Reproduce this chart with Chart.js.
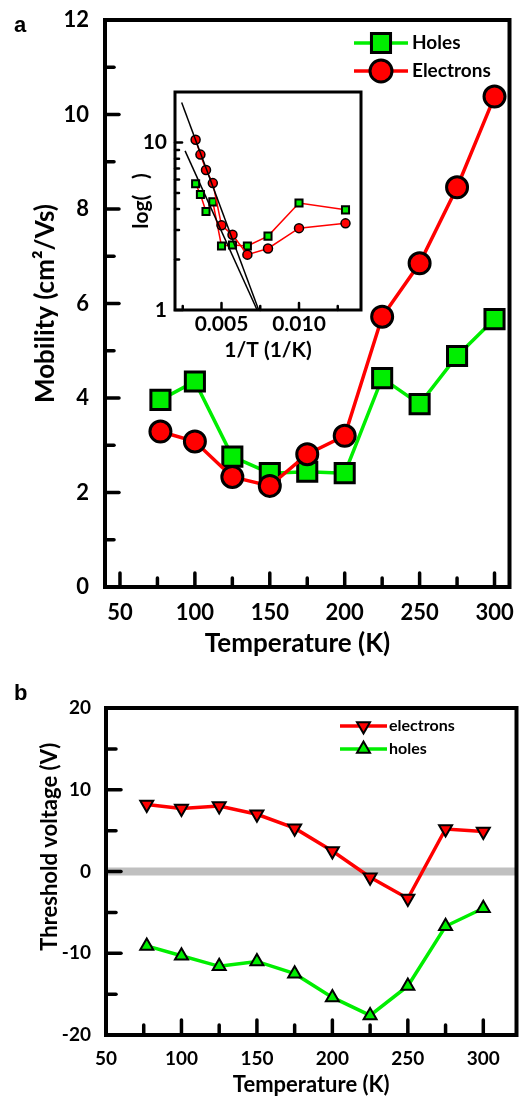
<!DOCTYPE html>
<html lang="en">
<head>
<meta charset="UTF-8" />
<title>Mobility and threshold voltage vs temperature</title>
<style>
  body { margin: 0; background: #fff; }
  .wrap { position: relative; width: 526px; height: 1100px; }
  canvas { position: absolute; }
  #chartA { left: 0; top: 0; }
  #chartInset { left: 110px; top: 80px; }
  #chartB { left: 0; top: 640px; }
  .panel { position: absolute; left: 14px; font: bold 22px "Liberation Sans", Arial, sans-serif; line-height: 22px; }
</style>
</head>
<body>
<div class="wrap">
  <canvas id="chartA" width="526" height="665"></canvas>
  <canvas id="chartB" width="526" height="460"></canvas>
  <canvas id="chartInset" width="270" height="300"></canvas>
  <div class="panel" style="top:14px">a</div>
  <div class="panel" style="top:682px">b</div>
</div>
<script src="https://cdn.jsdelivr.net/npm/chart.js"></script>
<script>
// data
const temps = [77, 100, 125, 150, 175, 200, 225, 250, 275, 300];
const holesMobility = [3.96, 4.35, 2.76, 2.41, 2.44, 2.41, 4.42, 3.87, 4.89, 5.67];
const electronsMobility = [3.29, 3.08, 2.33, 2.14, 2.81, 3.20, 5.72, 6.85, 8.46, 10.38];
const inverseTemps = [0.0130, 0.0100, 0.0080, 0.00667, 0.00571, 0.0050, 0.00444, 0.0040, 0.00364, 0.00333];
const fitSteepX = [0.00243, 0.0074];
const fitSteepY = [17.3, 1.0];
const fitShallowX = [0.00265, 0.0073];
const fitShallowY = [8.9, 1.0];
const electronsVth = [8.2, 7.7, 8.0, 7.0, 5.3, 2.5, -0.7, -3.3, 5.2, 4.9];
const holesVth = [-9.1, -10.3, -11.6, -11.0, -12.5, -15.4, -17.6, -14.0, -6.7, -4.5];
const zeroLineX = [50, 322];
const zeroLineY = [0, 0];

// tick labels / tick marks
const tempTicks = [50, 100, 150, 200, 250, 300];
const tempMinor = [75, 125, 175, 225, 275];
const mobilityTicks = [0, 2, 4, 6, 8, 10, 12];
const mobilityMinor = [1, 3, 5, 7, 9, 11];
const invTempTicks = [0.005, 0.010];
const invTempMinor = [0.0025, 0.0075, 0.0125];
const logTicks = [1, 10];
const logMinor = [2, 3, 4, 5, 6, 7, 8, 9];
const vthTicks = [-20, -10, 0, 10, 20];
const vthMinor = [-15, -5, 5, 15];

const RED = '#ff0000';
const GREEN = '#00ee00';
Chart.defaults.font.family = 'Lato';
Chart.defaults.color = '#000';

const pts = (xs, ys) => xs.map((x, i) => ({ x: x, y: ys[i] }));
const bold = size => ({ family: 'Lato', weight: 'bold', size: size });

// frame + inward tick marks, positions from the chart's own scales
function framePlugin(cfg) {
  return {
    id: 'frame',
    afterDatasetsDraw(chart) {
      const { ctx, chartArea: a, scales: { x, y } } = chart;
      ctx.save();
      ctx.strokeStyle = '#000';
      ctx.lineCap = 'round';
      ctx.lineWidth = cfg.tickWidth;
      const draw = (vals, len, horiz) => vals.forEach(v => {
        ctx.beginPath();
        if (horiz) {
          const p = x.getPixelForValue(v);
          ctx.moveTo(p, a.bottom);
          ctx.lineTo(p, a.bottom - len);
        } else {
          const p = y.getPixelForValue(v);
          ctx.moveTo(a.left, p);
          ctx.lineTo(a.left + len, p);
        }
        ctx.stroke();
      });
      draw(cfg.xMajor, cfg.major, true);
      draw(cfg.xMinor, cfg.minor, true);
      draw(cfg.yMajor, cfg.major, false);
      draw(cfg.yMinor, cfg.minor, false);
      ctx.lineCap = 'butt';
      ctx.lineWidth = cfg.frameWidth;
      ctx.strokeRect(a.left, a.top, a.right - a.left, a.bottom - a.top);
      ctx.restore();
    }
  };
}

function legendPlugin(items, font) {
  return {
    id: 'legendBox',
    afterDraw(chart) {
      const ctx = chart.ctx;
      ctx.save();
      items.forEach(it => {
        ctx.strokeStyle = it.color;
        ctx.lineWidth = it.lineWidth;
        ctx.beginPath();
        ctx.moveTo(it.x1, it.y);
        ctx.lineTo(it.x2, it.y);
        ctx.stroke();
        ctx.fillStyle = it.color;
        ctx.strokeStyle = '#000';
        ctx.lineWidth = it.borderWidth;
        Chart.helpers.drawPoint(ctx, {
          pointStyle: it.style, radius: it.radius, rotation: it.rotation || 0, borderWidth: it.borderWidth
        }, (it.x1 + it.x2) / 2, it.y);
        ctx.fillStyle = '#000';
        ctx.font = font;
        ctx.textBaseline = 'middle';
        ctx.fillText(it.label, it.tx, it.y);
      });
      ctx.restore();
    }
  };
}

const whiteBg = {
  id: 'whiteBg',
  beforeDraw(chart) {
    const { ctx, chartArea: a } = chart;
    ctx.save();
    ctx.fillStyle = '#fff';
    ctx.fillRect(a.left, a.top, a.right - a.left, a.bottom - a.top);
    ctx.restore();
  }
};

function axisX(min, max, ticks, opts) {
  return {
    type: 'linear', min: min, max: max,
    grid: { display: false, drawTicks: false }, border: { display: false },
    ticks: { font: bold(opts.tickSize), padding: opts.tickPad, maxRotation: 0, autoSkip: false, callback: opts.fmt },
    afterBuildTicks: s => { s.ticks = ticks.map(v => ({ value: v })); },
    title: { display: true, text: opts.title, font: bold(opts.titleSize), padding: { top: 0, bottom: opts.titlePad } },
    afterFit: s => { s.height = opts.height; s.paddingLeft = 0; s.paddingRight = 0; }
  };
}

function axisY(type, min, max, ticks, opts) {
  return {
    type: type, min: min, max: max,
    grid: { display: false, drawTicks: false }, border: { display: false },
    ticks: { font: bold(opts.tickSize), padding: opts.tickPad, autoSkip: false, callback: opts.fmt },
    afterBuildTicks: s => { s.ticks = ticks.map(v => ({ value: v })); },
    title: { display: true, text: opts.title, font: bold(opts.titleSize), padding: { top: opts.titlePad, bottom: 0 } },
    afterFit: s => { s.width = opts.width; s.paddingTop = 0; s.paddingBottom = 0; }
  };
}

const baseOpts = {
  responsive: false,
  animation: false,
  events: [],
  plugins: { legend: { display: false }, tooltip: { enabled: false } }
};

// panel a: mobility
new Chart(document.getElementById('chartA'), {
  type: 'line',
  data: {
    datasets: [
      {
        label: 'Electrons', data: pts(temps, electronsMobility),
        borderColor: RED, borderWidth: 3.5, pointStyle: 'circle', pointRadius: 10.5,
        pointBackgroundColor: RED, pointBorderColor: '#000', pointBorderWidth: 3
      },
      {
        label: 'Holes', data: pts(temps, holesMobility),
        borderColor: GREEN, borderWidth: 3.5, pointStyle: 'rect', pointRadius: 13.5,
        pointBackgroundColor: GREEN, pointBorderColor: '#000', pointBorderWidth: 3
      }
    ]
  },
  options: Object.assign({}, baseOpts, {
    layout: { padding: { left: 0, top: 20, right: 9, bottom: 0 } },
    scales: {
      x: axisX(40, 310, tempTicks, { tickSize: 22, tickPad: 13, title: 'Temperature (K)\u2003', titleSize: 26, titlePad: 6, height: 78 }),
      y: axisY('linear', 0, 12, mobilityTicks, { tickSize: 22, tickPad: 16, title: 'Mobility (cm\u00b2/Vs)', titleSize: 26, titlePad: 30, width: 105 })
    }
  }),
  plugins: [
    framePlugin({ xMajor: tempTicks, xMinor: tempMinor, yMajor: mobilityTicks, yMinor: mobilityMinor, major: 14, minor: 9, tickWidth: 3.5, frameWidth: 4 }),
    legendPlugin([
      { label: 'Holes', color: GREEN, style: 'rect', radius: 13.5, borderWidth: 3, lineWidth: 3.5, x1: 354, x2: 408, y: 43, tx: 412 },
      { label: 'Electrons', color: RED, style: 'circle', radius: 11, borderWidth: 3, lineWidth: 3.5, x1: 354, x2: 408, y: 71, tx: 412 }
    ], 'bold 19px Lato')
  ]
});

// inset: log mobility vs 1/T
new Chart(document.getElementById('chartInset'), {
  type: 'line',
  data: {
    datasets: [
      {
        label: 'fit steep', data: pts(fitSteepX, fitSteepY),
        borderColor: '#000', borderWidth: 1.5, pointRadius: 0
      },
      {
        label: 'fit shallow', data: pts(fitShallowX, fitShallowY),
        borderColor: '#000', borderWidth: 1.5, pointRadius: 0
      },
      {
        label: 'Electrons', data: pts(inverseTemps, electronsMobility),
        borderColor: RED, borderWidth: 1.5, pointStyle: 'circle', pointRadius: 4.5,
        pointBackgroundColor: RED, pointBorderColor: '#000', pointBorderWidth: 1.5
      },
      {
        label: 'Holes', data: pts(inverseTemps, holesMobility),
        borderColor: RED, borderWidth: 1.5, pointStyle: 'rect', pointRadius: 5,
        pointBackgroundColor: GREEN, pointBorderColor: '#000', pointBorderWidth: 2
      }
    ]
  },
  options: Object.assign({}, baseOpts, {
    layout: { padding: { left: 0, top: 12, right: 19, bottom: 0 } },
    scales: {
      x: axisX(0.002, 0.014, invTempTicks, { tickSize: 21, tickPad: 2, title: '1/T (1/K)', titleSize: 21, titlePad: 17, height: 70, fmt: v => v.toFixed(3) }),
      y: axisY('logarithmic', 1, 20, logTicks, { tickSize: 21, tickPad: 8, title: 'log(\u2003)', titleSize: 21, titlePad: 19, width: 65, fmt: v => String(v) })
    }
  }),
  plugins: [
    whiteBg,
    framePlugin({ xMajor: invTempTicks, xMinor: invTempMinor, yMajor: logTicks, yMinor: logMinor, major: 7, minor: 4, tickWidth: 2.5, frameWidth: 3 })
  ]
});

// panel b: threshold voltage
new Chart(document.getElementById('chartB'), {
  type: 'line',
  data: {
    datasets: [
      {
        label: 'electrons', data: pts(temps, electronsVth),
        borderColor: RED, borderWidth: 3.5, pointStyle: 'triangle', pointRotation: 180, pointRadius: 7.5,
        pointBackgroundColor: RED, pointBorderColor: '#000', pointBorderWidth: 2
      },
      {
        label: 'holes', data: pts(temps, holesVth),
        borderColor: GREEN, borderWidth: 3.5, pointStyle: 'triangle', pointRadius: 7.5,
        pointBackgroundColor: GREEN, pointBorderColor: '#000', pointBorderWidth: 2
      },
      {
        label: 'zero', data: pts(zeroLineX, zeroLineY),
        borderColor: '#c0c0c0', borderWidth: 8, pointRadius: 0
      }
    ]
  },
  options: Object.assign({}, baseOpts, {
    layout: { padding: { left: 0, top: 68, right: 7, bottom: 0 } },
    scales: {
      x: axisX(50, 322, tempTicks, { tickSize: 19, tickPad: 12, title: 'Temperature (K)', titleSize: 22, titlePad: 2, height: 65 }),
      y: axisY('linear', -20, 20, vthTicks, { tickSize: 19, tickPad: 15, title: '\u2003\u2003\u2003Threshold voltage (V)', titleSize: 22, titlePad: 37, width: 106 })
    }
  }),
  plugins: [
    framePlugin({ xMajor: tempTicks.slice(1), xMinor: tempMinor, yMajor: vthTicks, yMinor: vthMinor, major: 15, minor: 10, tickWidth: 3.5, frameWidth: 4 }),
    legendPlugin([
      { label: 'electrons', color: RED, style: 'triangle', rotation: 180, radius: 7.5, borderWidth: 2, lineWidth: 3.5, x1: 340, x2: 387, y: 86, tx: 389 },
      { label: 'holes', color: GREEN, style: 'triangle', radius: 7.5, borderWidth: 2, lineWidth: 3.5, x1: 340, x2: 387, y: 109, tx: 389 }
    ], 'bold 16px Lato')
  ]
});
</script>
</body>
</html>
